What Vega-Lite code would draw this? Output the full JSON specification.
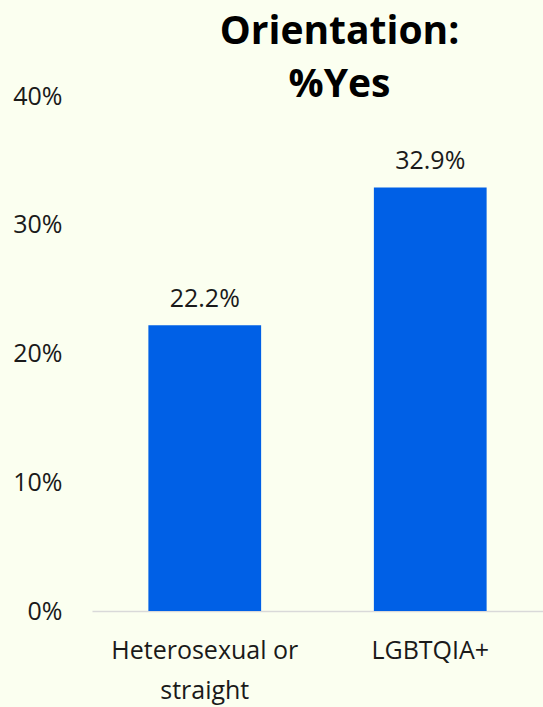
{
  "$schema": "https://vega.github.io/schema/vega-lite/v6.json",
  "width": 451,
  "height": 515,
  "autosize": {"type": "none"},
  "padding": {"left": 92, "top": 96, "right": 0, "bottom": 96},
  "background": "#FBFFF0",
  "title": {
    "text": ["Orientation:", "%Yes"],
    "font": "Open Sans",
    "fontSize": 39,
    "fontWeight": "bold",
    "color": "#000000",
    "lineHeight": 53,
    "anchor": "middle",
    "dx": 22,
    "dy": 25,
    "offset": 4
  },
  "data": {
    "values": [
      {"orientation": "Heterosexual or straight", "pct": 0.222},
      {"orientation": "LGBTQIA+", "pct": 0.329}
    ]
  },
  "config": {
    "view": {"stroke": null},
    "font": "Open Sans"
  },
  "encoding": {
    "x": {
      "field": "orientation",
      "type": "nominal",
      "sort": null,
      "scale": {"paddingInner": 0.5, "paddingOuter": 0.25},
      "axis": {
        "title": null,
        "labelAngle": 0,
        "labelFont": "Open Sans",
        "labelFontSize": 25,
        "labelColor": "#1a1a1a",
        "labelPadding": 27,
        "labelLineHeight": 40,
        "labelLimit": 400,
        "labelExpr": "datum.value == 'Heterosexual or straight' ? ['Heterosexual or', 'straight'] : datum.value",
        "ticks": false,
        "domainColor": "#D9D9D9",
        "domainWidth": 1.5
      }
    },
    "y": {
      "field": "pct",
      "type": "quantitative",
      "scale": {"domain": [0, 0.4]},
      "axis": {
        "title": null,
        "format": ".0%",
        "values": [0, 0.1, 0.2, 0.3, 0.4],
        "labelOverlap": false,
        "grid": false,
        "domain": false,
        "ticks": false,
        "labelFont": "Open Sans",
        "labelFontSize": 25,
        "labelColor": "#1a1a1a",
        "labelPadding": 30
      }
    }
  },
  "layer": [
    {"mark": {"type": "bar", "color": "#0060E6"}},
    {
      "mark": {"type": "text", "baseline": "bottom", "dy": -13, "font": "Open Sans", "fontSize": 25, "color": "#1a1a1a"},
      "encoding": {"text": {"field": "pct", "type": "quantitative", "format": ".1%"}}
    }
  ]
}
